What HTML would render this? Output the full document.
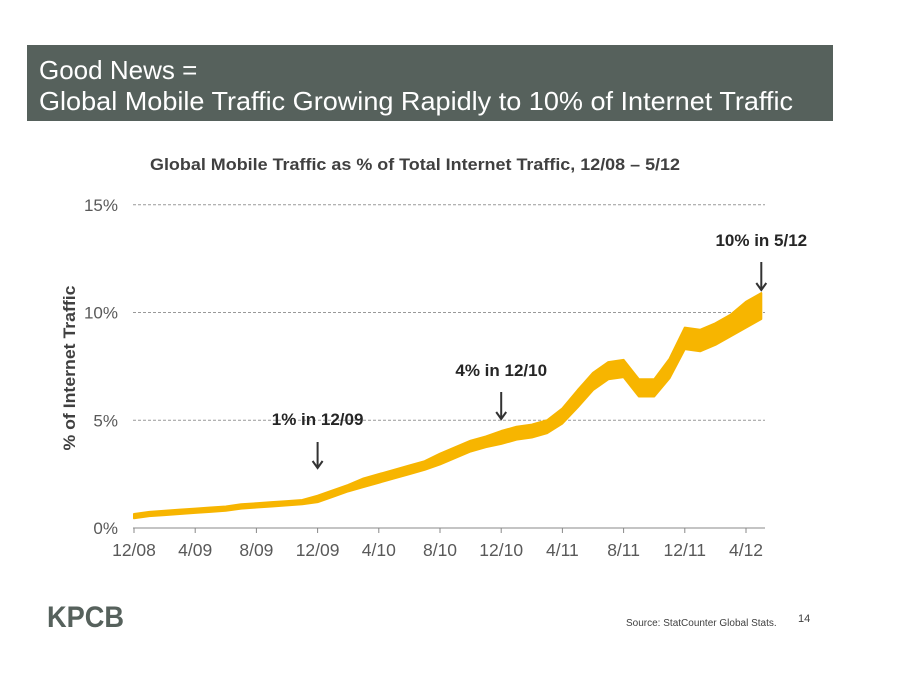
<!DOCTYPE html>
<html><head><meta charset="utf-8"><style>
body{margin:0;background:#fff;width:900px;height:695px;overflow:hidden;font-family:"Liberation Sans",Arial,sans-serif;}
</style></head><body>
<svg width="900" height="695" xmlns="http://www.w3.org/2000/svg">
<rect x="27" y="45" width="806" height="76" fill="#56615c"/>
<text x="39" y="79" font-size="26" fill="#fff">Good News =</text>
<text x="39" y="110" font-size="26" fill="#fff" textLength="754" lengthAdjust="spacingAndGlyphs">Global Mobile Traffic Growing Rapidly to 10% of Internet Traffic</text>
<text x="415" y="170" font-size="17" font-weight="bold" fill="#404040" text-anchor="middle" textLength="530" lengthAdjust="spacingAndGlyphs">Global Mobile Traffic as % of Total Internet Traffic, 12/08 – 5/12</text>
<text transform="translate(75,368) rotate(-90)" font-size="17" font-weight="bold" fill="#404040" text-anchor="middle" textLength="165" lengthAdjust="spacingAndGlyphs">% of Internet Traffic</text>
<g id="grid"></g><g id="yt"></g><g id="xt"></g><g id="series"></g><g id="ann"></g>
<text x="47" y="627" font-size="30" font-weight="bold" fill="#56615c" textLength="77" lengthAdjust="spacingAndGlyphs">KPCB</text>
<text x="626" y="626" font-size="10" fill="#404040">Source: StatCounter Global Stats.</text>
<text x="798" y="622" font-size="11" fill="#404040">14</text>
</svg>
<script>
const months=["12/08","1/09","2/09","3/09","4/09","5/09","6/09","7/09","8/09","9/09","10/09","11/09","12/09","1/10","2/10","3/10","4/10","5/10","6/10","7/10","8/10","9/10","10/10","11/10","12/10","1/11","2/11","3/11","4/11","5/11","6/11","7/11","8/11","9/11","10/11","11/11","12/11","1/12","2/12","3/12","4/12","5/12"];
const values=[0.55,0.65,0.7,0.75,0.8,0.85,0.9,1.0,1.05,1.1,1.15,1.2,1.35,1.6,1.85,2.1,2.3,2.5,2.7,2.9,3.2,3.5,3.8,4.0,4.2,4.4,4.5,4.7,5.2,6.0,6.8,7.3,7.4,6.5,6.5,7.4,8.8,8.7,9.0,9.4,9.9,10.3];
const spread=[0.1,0.1,0.1,0.1,0.1,0.1,0.1,0.1,0.1,0.1,0.1,0.1,0.15,0.15,0.15,0.2,0.2,0.2,0.2,0.2,0.25,0.25,0.25,0.25,0.3,0.3,0.3,0.3,0.35,0.4,0.4,0.4,0.4,0.4,0.4,0.45,0.5,0.5,0.5,0.5,0.6,0.6];
const yTicks=[0,5,10,15];
const xTickLabels=["12/08","4/09","8/09","12/09","4/10","8/10","12/10","4/11","8/11","12/11","4/12"];
const xTickIdx=[0,4,8,12,16,20,24,28,32,36,40];
const annotations=[{label:"1% in 12/09",i:12,ty:425,ay1:442,ay2:468},{label:"4% in 12/10",i:24,ty:376,ay1:392,ay2:419},{label:"10% in 5/12",i:41,ty:246,ay1:262,ay2:290}];
const NS="http://www.w3.org/2000/svg";
const X=i=>134+i*15.3, Y=v=>528-v*21.55;
function mk(p,t,a){const e=document.createElementNS(NS,t);for(const k in a)e.setAttribute(k,a[k]);p.appendChild(e);return e;}
const grid=document.getElementById('grid'),yt=document.getElementById('yt'),xt=document.getElementById('xt'),ser=document.getElementById('series'),ann=document.getElementById('ann');
yTicks.forEach(v=>{
 if(v>0){const l=mk(grid,'line',{x1:133,x2:765,y1:Y(v),y2:Y(v),stroke:'#999','stroke-dasharray':'3,2','stroke-width':1});
 
 }
 const t=mk(yt,'text',{x:118,y:Y(v)+6,'font-size':17,fill:'#595959','text-anchor':'end'});t.textContent=v+'%';
 
 
});
const ax=mk(xt,'line',{x1:133,x2:765,y1:528,y2:528,stroke:'#888','stroke-width':1});


xTickLabels.forEach((s,k)=>{const x=X(xTickIdx[k]);
 mk(xt,'line',{x1:x,x2:x,y1:528,y2:533,stroke:'#888'});
 const t=mk(xt,'text',{x:x,y:556,'font-size':17.5,fill:'#595959','text-anchor':'middle'});t.textContent=s;
 
 
});
let up=values.map((v,i)=>X(i)+','+Y(v+spread[i])).join(' ');
let dn=values.map((v,i)=>X(i)+','+Y(v-spread[i])).reverse().join(' ');
const band=mk(ser,'polygon',{points:up+' '+dn,fill:'#f7b500',stroke:'#f7b500','stroke-width':2,'stroke-linejoin':'round'});


annotations.forEach(a=>{const x=X(a.i);
 const t=mk(ann,'text',{x:x,y:a.ty,'font-size':17,'font-weight':'bold',fill:'#262626','text-anchor':'middle'});t.textContent=a.label;
 
 
 const g=mk(ann,'path',{d:`M${x},${a.ay1}V${a.ay2}M${x-5},${a.ay2-7}L${x},${a.ay2}L${x+5},${a.ay2-7}`,stroke:'#333','stroke-width':2,fill:'none'});
 
 
});
</script>
</body></html>
